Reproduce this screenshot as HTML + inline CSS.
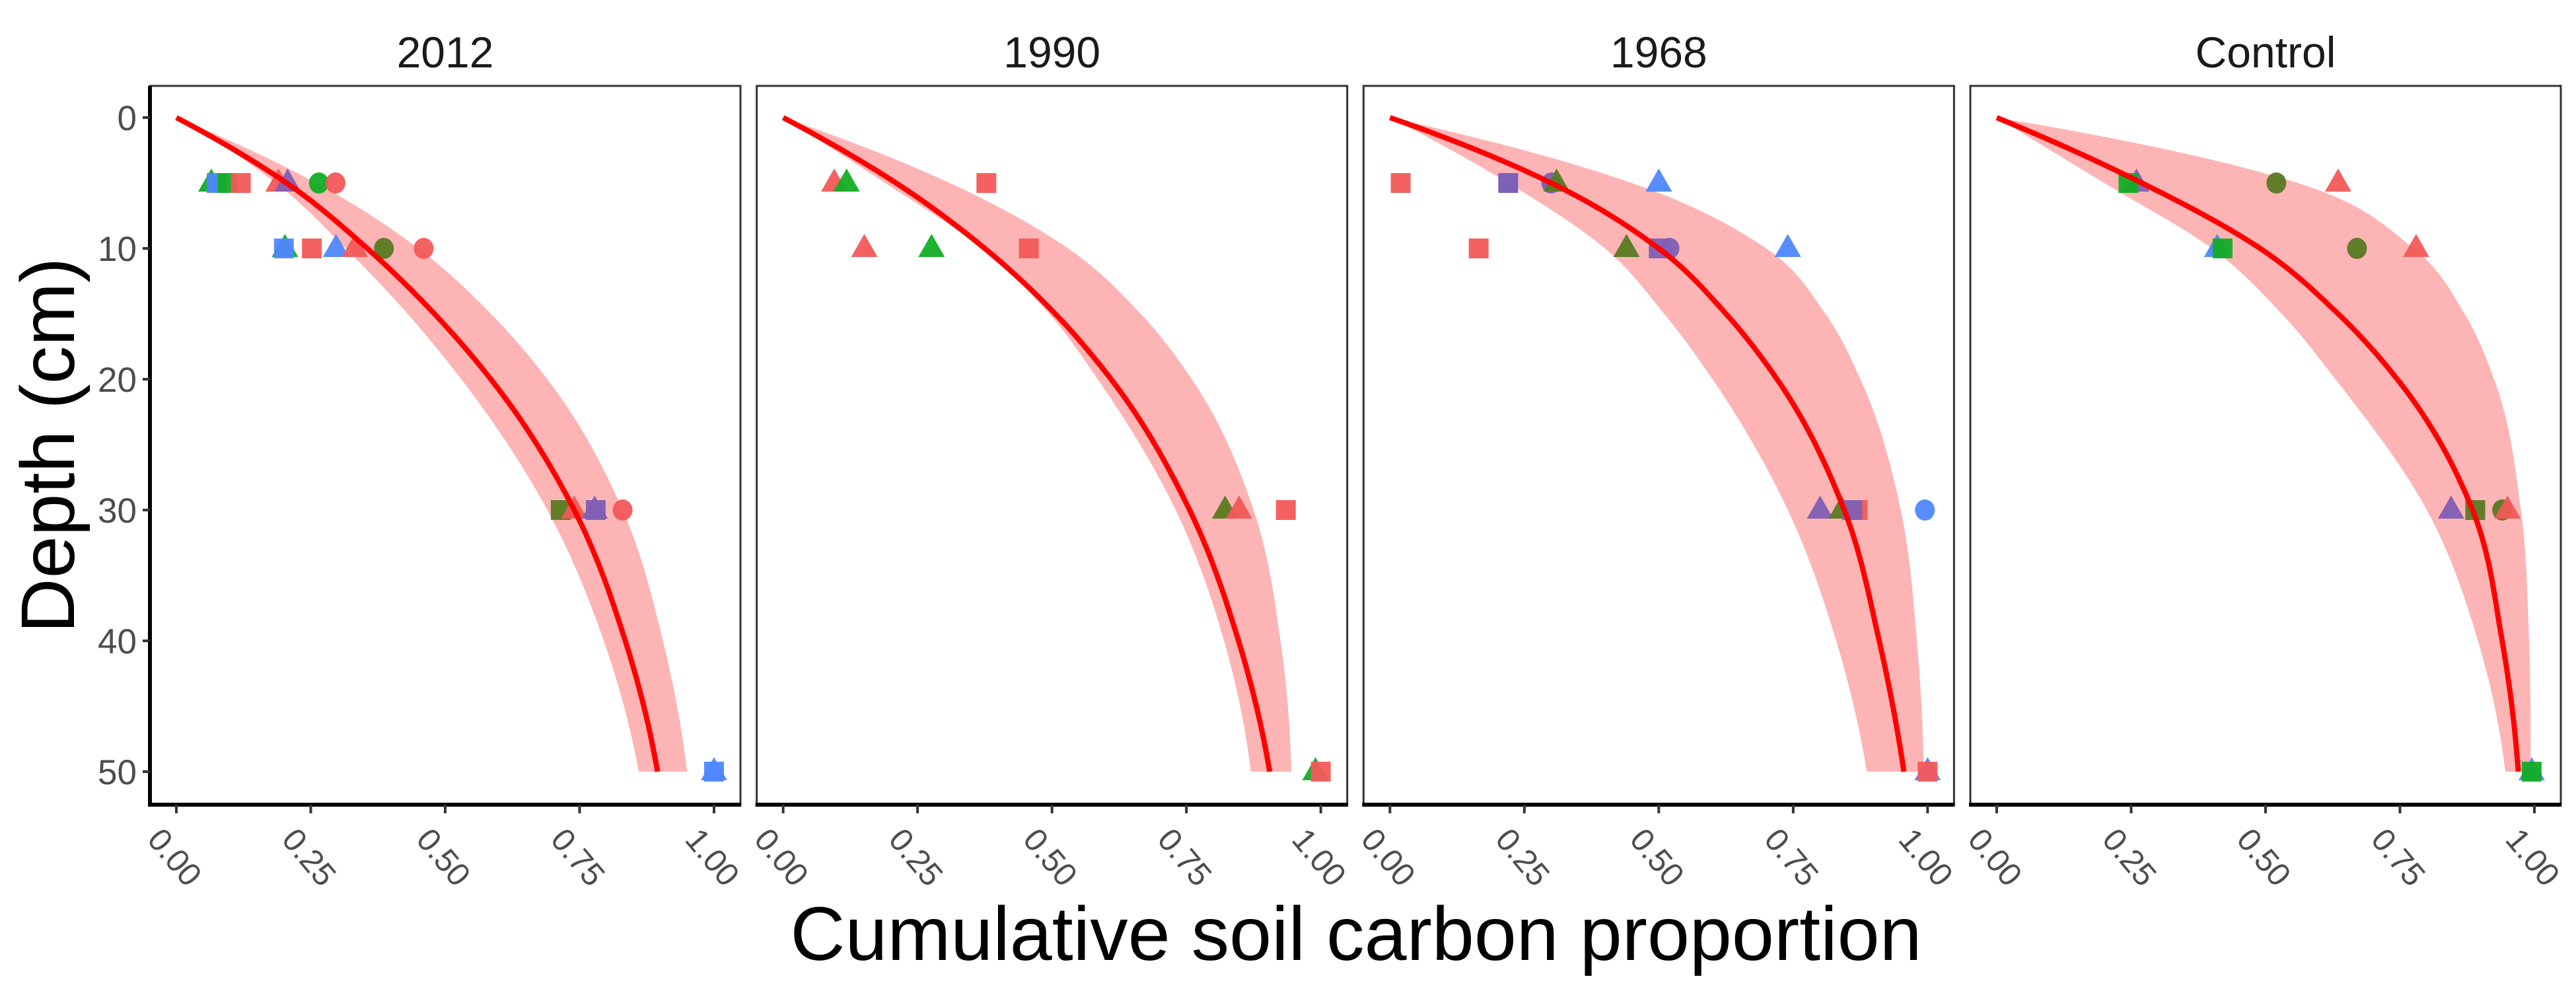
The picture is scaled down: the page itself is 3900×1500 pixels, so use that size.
<!DOCTYPE html>
<html><head><meta charset="utf-8"><title>Cumulative soil carbon proportion</title>
<style>html,body{margin:0;padding:0;background:#fff}svg{display:block}</style></head>
<body>
<svg id="chart" xmlns="http://www.w3.org/2000/svg" width="3900" height="1500" viewBox="0 0 3900 1500" font-family="'Liberation Sans', sans-serif">
<text x="0" y="0" transform="translate(112,674) rotate(-90)" text-anchor="middle" font-size="115" fill="#000">Depth (cm)</text>
<text x="2053" y="1453" text-anchor="middle" font-size="115" fill="#000">Cumulative soil carbon proportion</text>
<g id="panels"></g>
</svg>
<script>
const panelNames = ["2012", "1990", "1968", "Control"];
const depthGrid = [0, 5, 10, 15, 20, 30, 40, 50];
const fit2012 = [0, 0.205, 0.355, 0.48, 0.585, 0.74, 0.835, 0.895];
const lo2012  = [0, 0.185, 0.315, 0.43, 0.53, 0.69, 0.795, 0.86];
const hi2012  = [0, 0.26, 0.45, 0.585, 0.69, 0.83, 0.905, 0.95];
const fit1990 = [0, 0.21, 0.375, 0.506, 0.61, 0.756, 0.847, 0.905];
const lo1990  = [0, 0.19, 0.37, 0.495, 0.585, 0.73, 0.82, 0.87];
const hi1990  = [0, 0.31, 0.53, 0.665, 0.76, 0.875, 0.925, 0.945];
const fit1968 = [0, 0.30, 0.50, 0.625, 0.72, 0.845, 0.91, 0.956];
const lo1968  = [0, 0.22, 0.40, 0.51, 0.60, 0.74, 0.83, 0.887];
const hi1968  = [0, 0.45, 0.70, 0.81, 0.875, 0.95, 0.98, 0.993];
const fitCtrl = [0, 0.27, 0.49, 0.635, 0.745, 0.885, 0.94, 0.97];
const loCtrl  = [0, 0.20, 0.40, 0.53, 0.63, 0.80, 0.895, 0.946];
const hiCtrl  = [0, 0.56, 0.775, 0.87, 0.925, 0.975, 0.99, 0.993];
const fits = [fit2012, fit1990, fit1968, fitCtrl];
const los = [lo2012, lo1990, lo1968, loCtrl];
const his = [hi2012, hi1990, hi1968, hiCtrl];
const xTicks = [0, 0.25, 0.5, 0.75, 1];
const xTickLabels = ["0.00", "0.25", "0.50", "0.75", "1.00"];
const yTicks = [0, 10, 20, 30, 40, 50];
const yTickLabels = ["0", "10", "20", "30", "40", "50"];
const pts2012x = [0.065,0.075,0.095,0.12,0.19,0.207,0.265,0.296, 0.202,0.20,0.252,0.297,0.332,0.386,0.46, 0.715,0.74,0.778,0.78,0.83, 1.0,1.0];
const pts2012d = [5,5,5,5,5,5,5,5, 10,10,10,10,10,10,10, 30,30,30,30,30, 50,50];
const pts2012s = ["t","s","s","s","t","t","c","c", "t","s","s","t","t","c","c", "s","t","t","s","c", "t","s"];
const pts2012c = ["G","B","G","R","R","P","G","R", "G","B","R","B","R","O","R", "O","R","P","P","R", "B","B"];
const pts1990x = [0.095,0.118,0.378, 0.151,0.276,0.457, 0.822,0.848,0.935, 0.99,1.0];
const pts1990d = [5,5,5, 10,10,10, 30,30,30, 50,50];
const pts1990s = ["t","t","s", "t","t","s", "t","t","s", "t","s"];
const pts1990c = ["R","G","R", "R","G","R", "O","R","R", "G","R"];
const pts1968x = [0.02,0.22,0.22,0.30,0.31,0.50, 0.165,0.44,0.50,0.52,0.74, 0.80,0.84,0.87,0.86,0.995, 1.0,1.0];
const pts1968d = [5,5,5,5,5,5, 10,10,10,10,10, 30,30,30,30,30, 50,50];
const pts1968s = ["s","s","s","c","t","t", "s","t","s","c","t", "t","t","s","s","c", "t","s"];
const pts1968c = ["R","B","P","P","O","B", "R","O","P","P","B", "P","O","R","P","B", "B","R"];
const ptsCtrlx = [0.26,0.245,0.52,0.635, 0.41,0.42,0.67,0.78, 0.845,0.89,0.94,0.95, 0.995,0.995];
const ptsCtrld = [5,5,5,5, 10,10,10,10, 30,30,30,30, 50,50];
const ptsCtrls = ["t","s","c","t", "t","s","c","t", "t","s","c","t", "t","s"];
const ptsCtrlc = ["P","G","O","R", "B","G","O","R", "P","O","O","R", "B","G"];
const ptsX = [pts2012x, pts1990x, pts1968x, ptsCtrlx];
const ptsD = [pts2012d, pts1990d, pts1968d, ptsCtrld];
const ptsS = [pts2012s, pts1990s, pts1968s, ptsCtrls];
const ptsC = [pts2012c, pts1990c, pts1968c, ptsCtrlc];

const colours = {R:"#F25A58", G:"#13AD25", B:"#4F87FF", P:"#7F5FB4", O:"#587A22"};
const NS = "http://www.w3.org/2000/svg";
const root = document.getElementById("panels");
const PTOP = 130, PBOT = 1218, PW = 894, STEP = 918.67, PL0 = 227;
function yScale(d){ return 178 + d * 19.8; }
function mk(tag, attrs, parent){ const e = document.createElementNS(NS, tag); for (const k in attrs) e.setAttribute(k, attrs[k]); parent.appendChild(e); return e; }
// cubic Hermite spline with parabolic (non-uniform) derivative estimates
function spline(xs, ys){
  const n = xs.length, h = [], s = [], m = new Array(n);
  for (let i = 0; i < n-1; i++){ h.push(xs[i+1]-xs[i]); s.push((ys[i+1]-ys[i])/h[i]); }
  for (let i = 1; i < n-1; i++) m[i] = (h[i]*s[i-1] + h[i-1]*s[i]) / (h[i-1]+h[i]);
  m[0] = Math.max(0, 2*s[0] - m[1]);
  m[n-1] = Math.max(0, 2*s[n-2] - m[n-2]);
  return function(x){
    let i = 0; while (i < n-2 && x > xs[i+1]) i++;
    const t = (x-xs[i])/h[i], t2 = t*t, t3 = t2*t;
    return (2*t3-3*t2+1)*ys[i] + (t3-2*t2+t)*h[i]*m[i] + (-2*t3+3*t2)*ys[i+1] + (t3-t2)*h[i]*m[i+1];
  };
}
function sampled(vals, xScale){
  const f = spline(depthGrid, vals), out = [];
  for (let d = 0; d <= 50.0001; d += 0.5) out.push([xScale(f(d)), yScale(d)]);
  return out;
}
function toPath(arr){ return arr.map((p,i)=>(i?"L":"M")+p[0].toFixed(1)+","+p[1].toFixed(1)).join(""); }
panelNames.forEach((name, pi) => {
  const left = PL0 + STEP * pi;
  const xScale = v => left + 40 + v * 814;
  const g = mk("g", {}, root);
  
  
  const strip = mk("text", {x: left + PW/2, y: 102, "text-anchor": "middle", "font-size": 66, fill: "#1a1a1a"}, g);
  
  
  strip.textContent = name;
  const hiPts = sampled(his[pi], xScale);
  const loPts = sampled(los[pi], xScale).reverse();
  const band = mk("path", {d: toPath(hiPts.concat(loPts)) + "Z", fill: "#FDB4B5", stroke: "none"}, g);
  
  
  const xs = ptsX[pi], ds = ptsD[pi], ss = ptsS[pi], cs = ptsC[pi];
  for (let i = 0; i < xs.length; i++){
    const cx = xScale(xs[i]), cy = yScale(ds[i]), col = colours[cs[i]];
    let m;
    if (ss[i] === "c") m = mk("ellipse", {cx, cy, rx: 15, ry: 16, fill: col, "fill-opacity": 0.95}, g);
    else if (ss[i] === "s") m = mk("rect", {x: cx-15, y: cy-15, width: 30, height: 30, fill: col, "fill-opacity": 0.95}, g);
    else m = mk("polygon", {points: `${cx},${cy-22} ${cx+20},${cy+13} ${cx-20},${cy+13}`, fill: col, "fill-opacity": 0.95}, g);
    
    
  }
  const line = mk("path", {d: toPath(sampled(fits[pi], xScale)), fill: "none", stroke: "#FF0000", "stroke-width": 8, "stroke-linejoin": "round"}, g);
  
  
  const frame = mk("rect", {x: left, y: PTOP, width: PW, height: PBOT-PTOP, fill: "none", stroke: "#333", "stroke-width": 3}, g);
  
  
  const xAxis = mk("line", {x1: left-2, x2: left+PW+1, y1: PBOT, y2: PBOT, stroke: "#000", "stroke-width": 6}, g);
  
  
  if (pi === 0){
    const yAxis = mk("line", {x1: left, x2: left, y1: PTOP, y2: PBOT+3, stroke: "#000", "stroke-width": 6}, g);
    
    
    yTicks.forEach((t, ti) => {
      const tk = mk("line", {x1: left-11, x2: left, y1: yScale(t), y2: yScale(t), stroke: "#333", "stroke-width": 4}, g);
      
      
      const tl = mk("text", {x: left-20, y: yScale(t)+19, "text-anchor": "end", "font-size": 53, fill: "#4D4D4D"}, g);
      
      
      tl.textContent = yTickLabels[ti];
    });
  }
  xTicks.forEach((t, ti) => {
    const tx = xScale(t);
    const tk = mk("line", {x1: tx, x2: tx, y1: PBOT, y2: PBOT+13, stroke: "#333", "stroke-width": 4}, g);
    
    
    const tl = mk("text", {x: 0, y: 0, transform: `translate(${tx-3},${1298}) rotate(50)`, "text-anchor": "middle", "dominant-baseline": "central", "font-size": 49, fill: "#4D4D4D"}, g);
    
    
    tl.textContent = xTickLabels[ti];
  });
});
</script>
</body></html>
